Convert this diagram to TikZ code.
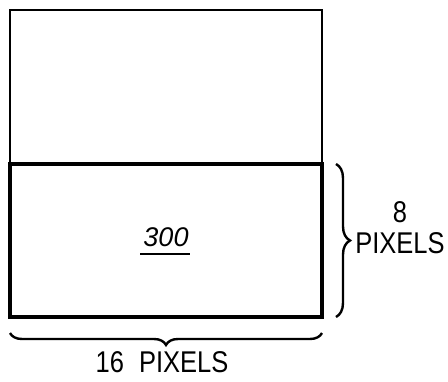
\documentclass[tikz,border=0pt]{standalone}
\usepackage{fontspec}
\setmainfont{Liberation Sans}[FakeStretch=0.85]
\newfontfamily\numfont{Liberation Sans}
\usetikzlibrary{decorations.pathreplacing}
\tikzset{
  frame/.style={line width=2pt},
  block/.style={line width=3.6pt},
  curly/.style={line width=2.4pt,decorate,decoration={brace,amplitude=#1}},
  lbl/.style={inner sep=0pt,font=\fontsize{30}{31}\selectfont}
}
\begin{document}
\begin{tikzpicture}[x=1pt,y=-1pt]
  \useasboundingbox (0,0) rectangle (448,381);
  \draw[frame] (10,10) rectangle (322,317);
  \draw[block] (10,164) rectangle (322,317);
  \node[inner sep=0pt,font=\numfont\itshape\fontsize{27}{27}\selectfont] (num) at (166,237) {300};
  \draw[line width=2pt] ([xshift=-3pt,yshift=-8pt]num.base west) -- ([xshift=1pt,yshift=-8pt]num.base east);
  \coordinate (rtop) at (336,164);
  \coordinate (rbot) at (336,317);
  \draw[curly=14pt] (rtop) -- (rbot);
  \node[lbl,align=center] (hgt) at (400,228) {8\\PIXELS};
  \coordinate (bright) at (322,333);
  \coordinate (bleft) at (10,333);
  \draw[curly=12pt] (bright) -- (bleft);
  \node[lbl] (wid) at (162,362) {16\hspace{15pt}PIXELS};
\end{tikzpicture}
\end{document}
